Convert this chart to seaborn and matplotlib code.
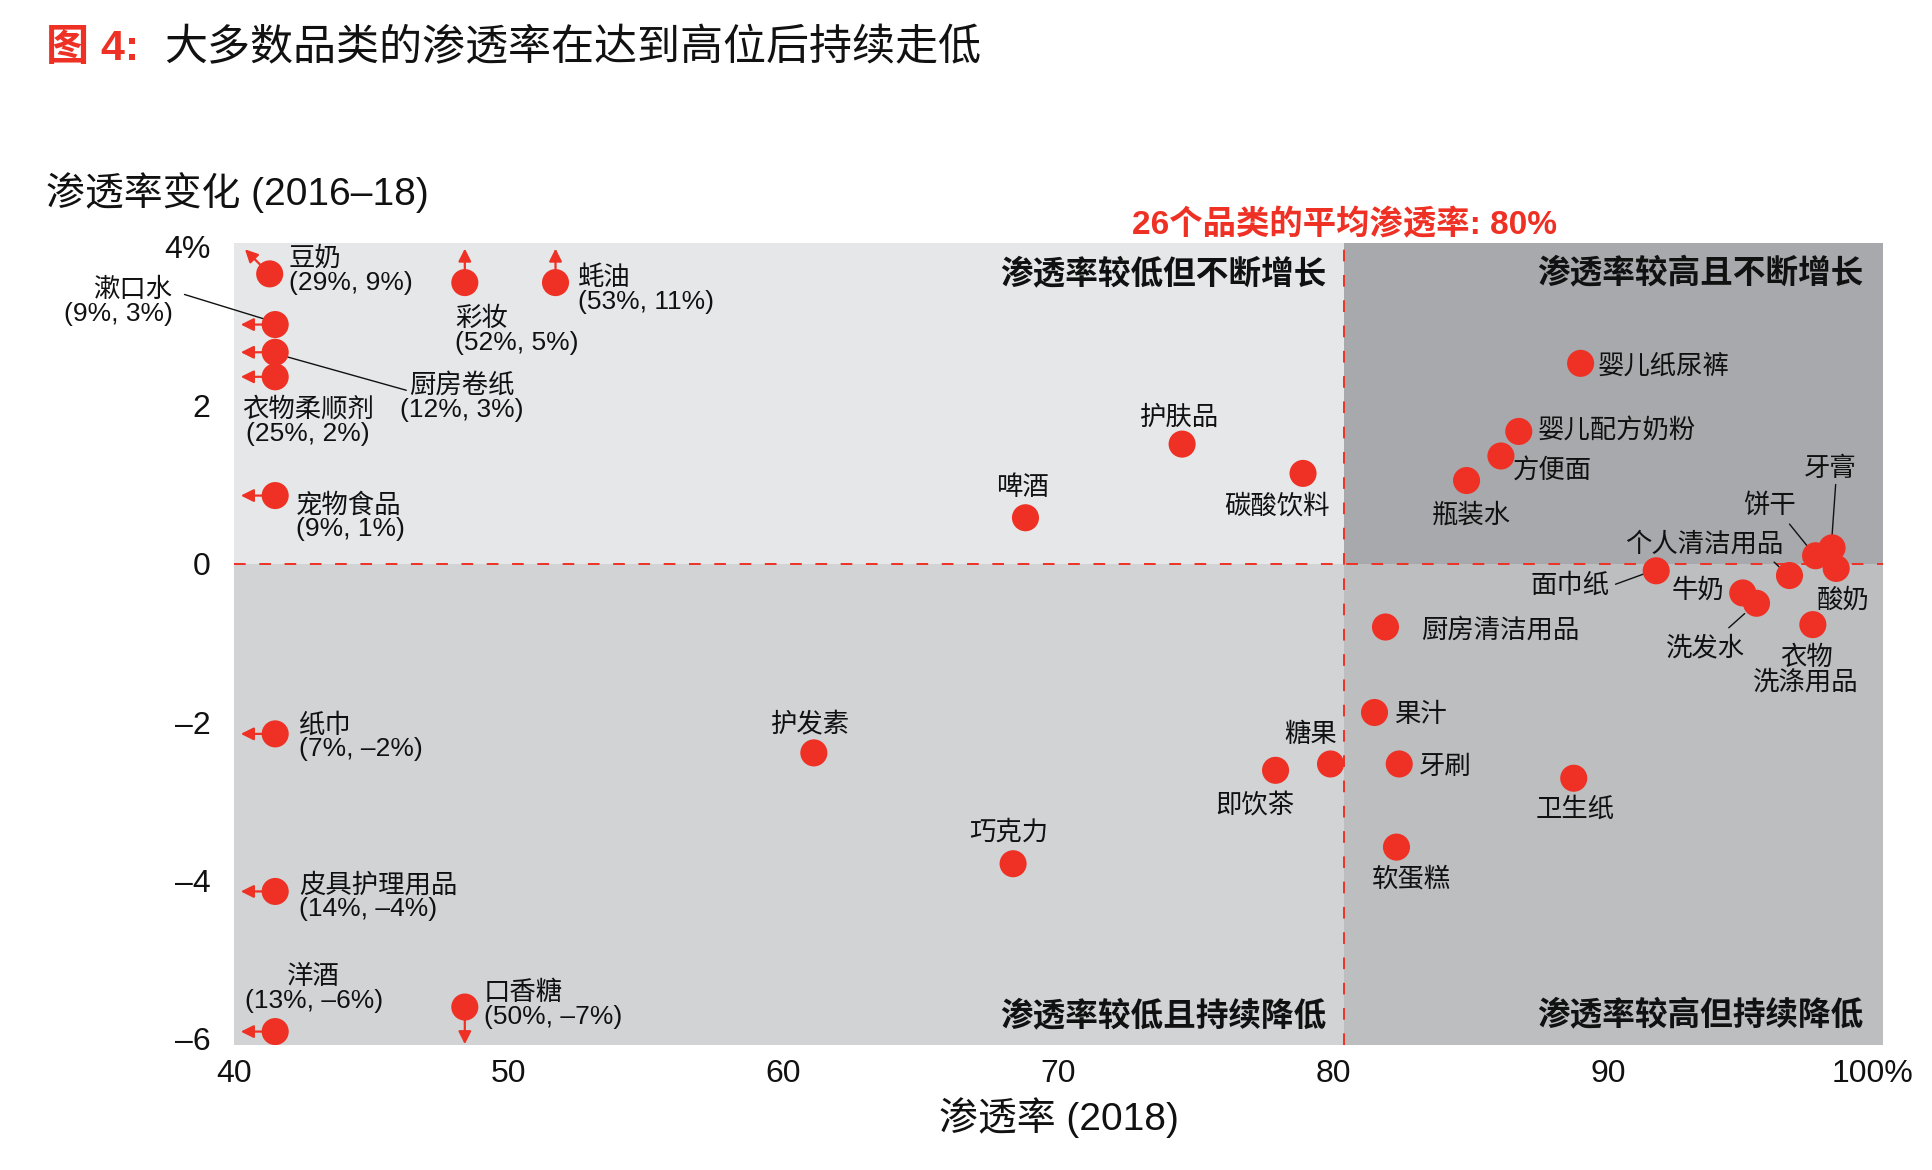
import matplotlib
matplotlib.use('Agg')
import matplotlib.pyplot as plt
import matplotlib.transforms as mtransforms
import seaborn as sns
import pandas as pd

# ---------------- data ----------------
categories = ['豆奶', '漱口水', '厨房卷纸', '衣物柔顺剂', '宠物食品', '彩妆', '蚝油',
              '护肤品', '啤酒', '碳酸饮料', '婴儿纸尿裤', '婴儿配方奶粉', '方便面', '瓶装水',
              '牙膏', '饼干', '个人清洁用品', '酸奶', '面巾纸', '牛奶', '洗发水', '衣物洗涤用品',
              '厨房清洁用品', '果汁', '牙刷', '糖果', '即饮茶', '卫生纸', '软蛋糕', '护发素',
              '巧克力', '纸巾', '皮具护理用品', '洋酒', '口香糖']
penetration_2018 = [41.3, 41.5, 41.5, 41.5, 41.5, 48.4, 51.7,
                    74.5, 68.8, 78.9, 89.0, 86.75, 86.1, 84.85,
                    98.15, 97.55, 96.6, 98.3, 91.75, 94.9, 95.4, 97.45,
                    81.9, 81.5, 82.4, 79.9, 77.9, 88.75, 82.3, 61.1,
                    68.35, 41.5, 41.5, 41.5, 48.4]
change_2016_18 = [3.66, 3.02, 2.67, 2.36, 0.86, 3.55, 3.55,
                  1.51, 0.58, 1.14, 2.53, 1.67, 1.36, 1.05,
                  0.20, 0.10, -0.15, -0.06, -0.09, -0.37, -0.50, -0.77,
                  -0.80, -1.88, -2.53, -2.53, -2.61, -2.71, -3.58, -2.39,
                  -3.79, -2.15, -4.14, -5.91, -5.60]
# off-scale categories and their true values (shown in labels)
offscale_labels = {'豆奶': '(29%, 9%)', '漱口水': '(9%, 3%)', '厨房卷纸': '(12%, 3%)',
                   '衣物柔顺剂': '(25%, 2%)', '宠物食品': '(9%, 1%)', '彩妆': '(52%, 5%)',
                   '蚝油': '(53%, 11%)', '纸巾': '(7%, –2%)', '皮具护理用品': '(14%, –4%)',
                   '洋酒': '(13%, –6%)', '口香糖': '(50%, –7%)'}
avg_penetration = 80.4
x_ticks = [40, 50, 60, 70, 80, 90, 100]
x_ticklabels = ['40', '50', '60', '70', '80', '90', '100%']
y_ticks = [4, 2, 0, -2, -4, -6]
y_ticklabels = ['4%', '2', '0', '–2', '–4', '–6']

df = pd.DataFrame({'category': categories, 'pen': penetration_2018, 'chg': change_2016_18})

# ---------------- style ----------------
sns.set_theme(style='white')
plt.rcParams['font.family'] = ['Liberation Sans', 'Noto Sans CJK SC']
plt.rcParams['axes.unicode_minus'] = False

RED = '#ee3124'
XMIN, XMAX, YMIN, YMAX = 40, 100, -6.08, 4.05

fig = plt.figure(figsize=(19.32, 11.70), dpi=100)
ax = fig.add_axes([0.1211, 0.1068, 0.8535, 0.6855])

# quadrant backgrounds
ax.fill_between([XMIN, avg_penetration], 0, YMAX, color='#e6e7e8', lw=0, zorder=0)
ax.fill_between([XMIN, avg_penetration], YMIN, 0, color='#d1d3d4', lw=0, zorder=0)
ax.fill_between([avg_penetration, XMAX], 0, YMAX, color='#a7a9ac', lw=0, zorder=0)
ax.fill_between([avg_penetration, XMAX], YMIN, 0, color='#bcbec0', lw=0, zorder=0)

ax.axhline(0, color=RED, ls=(0, (6, 7)), lw=1.4, zorder=1)
ax.axvline(avg_penetration, color=RED, ls=(0, (6, 7)), lw=1.4, zorder=1)

sns.scatterplot(data=df, x='pen', y='chg', color=RED, s=380, edgecolor='none',
                linewidth=0, ax=ax, zorder=3, legend=False)

ax.set_xlim(XMIN, XMAX)
ax.set_ylim(YMIN, YMAX)
ax.set_xticks(x_ticks)
ax.set_xticklabels(x_ticklabels)
ax.set_yticks(y_ticks)
ax.set_yticklabels(y_ticklabels)
ax.tick_params(axis='both', length=0, labelsize=23, colors='#111111')
ax.tick_params(axis='y', pad=17)
ax.tick_params(axis='x', pad=10)
# the "100%" label hangs its % sign to the right of the tick
lbl = ax.get_xticklabels()[-1]
lbl.set_transform(lbl.get_transform() + mtransforms.ScaledTranslation(-10 / 100, 0, fig.dpi_scale_trans))
for s in ax.spines.values():
    s.set_visible(False)
ax.set_xlabel('渗透率 (2018)', fontsize=28, color='#111111', labelpad=6)
ax.set_ylabel('')

# ---------------- off-scale arrows ----------------
arrow_kw = dict(arrowstyle='-|>', color=RED, lw=1.6, mutation_scale=19, shrinkA=0, shrinkB=0)
pos = dict(zip(categories, zip(penetration_2018, change_2016_18)))
for c in ['漱口水', '厨房卷纸', '衣物柔顺剂', '宠物食品', '纸巾', '皮具护理用品', '洋酒']:
    x, y = pos[c]
    ax.annotate('', xy=(40.25, y), xytext=(x - 0.35, y), arrowprops=arrow_kw, zorder=2)
for c in ['彩妆', '蚝油']:
    x, y = pos[c]
    ax.annotate('', xy=(x, 3.98), xytext=(x, y + 0.15), arrowprops=arrow_kw, zorder=2)
x, y = pos['口香糖']
ax.annotate('', xy=(x, -6.07), xytext=(x, y - 0.15), arrowprops=arrow_kw, zorder=2)
x, y = pos['豆奶']
ax.annotate('', xy=(40.4, 3.97), xytext=(x - 0.3, y + 0.1), arrowprops=arrow_kw, zorder=2)

# ---------------- labels ----------------
LFS = 19
def lab(c, x, y, ha='center', ma=None):
    t = c + ('\n' + offscale_labels[c] if c in offscale_labels else '')
    ax.text(x, y, t, ha=ha, va='center', fontsize=LFS, color='#111111',
            linespacing=1.0, multialignment=ma or ha, zorder=4, clip_on=False)

lab('豆奶', 42.0, 3.70, 'left')
lab('漱口水', 37.76, 3.31, 'right')
lab('厨房卷纸', 48.3, 2.10, 'center')
lab('衣物柔顺剂', 42.7, 1.80, 'center')
lab('宠物食品', 42.24, 0.59, 'left')
lab('彩妆', 48.06, 2.94, 'left')
lab('蚝油', 52.53, 3.46, 'left')
lab('护肤品', 74.38, 1.85)
lab('啤酒', 68.69, 0.96)
lab('碳酸饮料', 77.96, 0.72)
lab('婴儿纸尿裤', 89.6, 2.49, 'left')
lab('婴儿配方奶粉', 87.45, 1.68, 'left')
lab('方便面', 86.55, 1.18, 'left')
lab('瓶装水', 85.03, 0.61)
lab('牙膏', 98.1, 1.20)
lab('饼干', 95.86, 0.73)
lab('个人清洁用品', 93.5, 0.25)
lab('面巾纸', 90.04, -0.28, 'right')
lab('牛奶', 93.27, -0.34)
lab('洗发水', 93.54, -1.07)
lab('酸奶', 98.55, -0.47)
ax.text(97.2, -1.35, '衣物\n洗涤用品', ha='center', va='center', fontsize=LFS,
        color='#111111', linespacing=1.0, zorder=4)
lab('厨房清洁用品', 83.2, -0.84, 'left')
lab('果汁', 82.2, -1.91, 'left')
lab('牙刷', 83.1, -2.57, 'left')
lab('糖果', 79.17, -2.16)
lab('即饮茶', 77.15, -3.05)
lab('卫生纸', 88.8, -3.10)
lab('软蛋糕', 82.84, -3.98)
lab('护发素', 60.95, -2.04)
lab('巧克力', 68.2, -3.39)
lab('纸巾', 42.37, -2.19, 'left')
lab('皮具护理用品', 42.37, -4.21, 'left')
lab('洋酒', 42.9, -5.37, 'center')
lab('口香糖', 49.09, -5.57, 'left')

# leader lines
line_kw = dict(arrowstyle='-', color='#111111', lw=1.0, shrinkA=0, shrinkB=0)
for start, end in [((38.2, 3.40), (41.2, 3.08)),
                   ((41.75, 2.63), (46.27, 2.19)),
                   ((98.28, 1.0), (98.15, 0.36)),
                   ((96.6, 0.50), (97.3, 0.20)),
                   ((96.04, 0.02), (96.4, -0.10)),
                   ((90.27, -0.26), (91.3, -0.13)),
                   ((94.39, -0.81), (94.97, -0.63))]:
    ax.annotate('', xy=end, xytext=start, arrowprops=line_kw, annotation_clip=False, zorder=2)

# quadrant titles
qkw = dict(fontsize=23.5, fontweight='bold', color='#111111', va='center', ha='right', zorder=4)
ax.text(79.75, 3.66, '渗透率较低但不断增长', **qkw)
ax.text(99.3, 3.66, '渗透率较高且不断增长', **qkw)
ax.text(79.75, -5.72, '渗透率较低且持续降低', **qkw)
ax.text(99.3, -5.72, '渗透率较高但持续降低', **qkw)

ax.annotate('26个品类的平均渗透率: 80%', xy=(avg_penetration, 1.0), xycoords=('data', 'axes fraction'),
            xytext=(0, 18), textcoords='offset pixels', ha='center', va='center',
            fontsize=24, fontweight='bold', color=RED, annotation_clip=False)

# titles
fig.text(46 / 1932, 1 - 49 / 1170, '图 4:', fontsize=31, fontweight='bold', color=RED,
         ha='left', va='center')
fig.text(164 / 1932, 1 - 49 / 1170, '大多数品类的渗透率在达到高位后持续走低', fontsize=31,
         color='#111111', ha='left', va='center')
fig.text(46 / 1932, 1 - 193 / 1170, '渗透率变化 (2016–18)', fontsize=28, color='#111111',
         ha='left', va='center')

fig.savefig('out.png', dpi=100, facecolor='white')
